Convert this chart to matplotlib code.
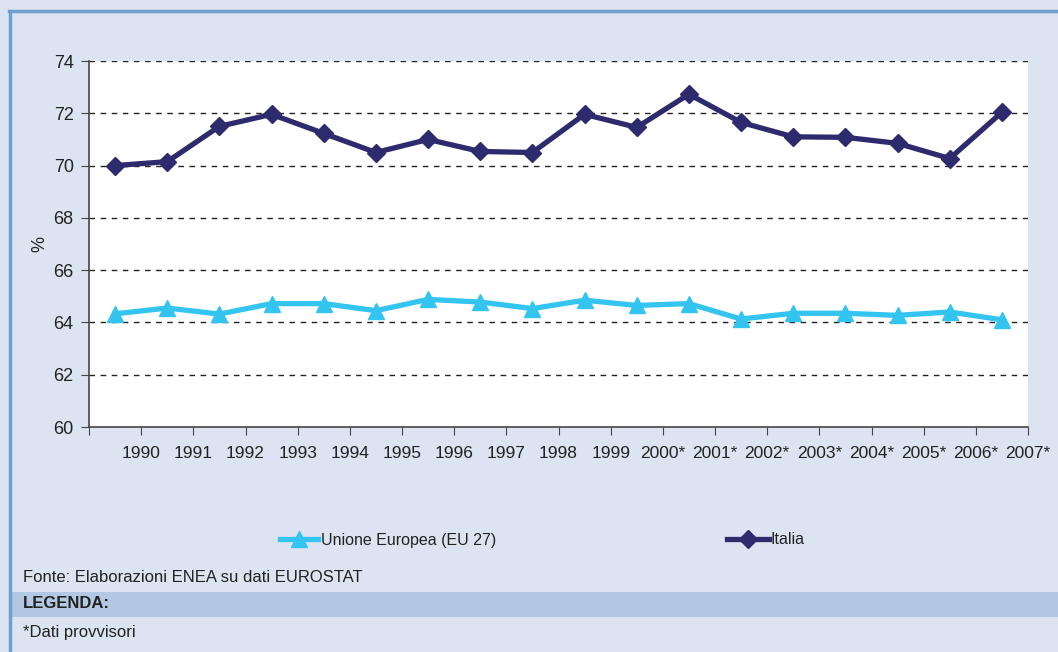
import matplotlib
matplotlib.use("Agg")
import matplotlib.pyplot as plt
from matplotlib.lines import Line2D
from matplotlib.patches import Rectangle

years = ["1990", "1991", "1992", "1993", "1994", "1995", "1996", "1997", "1998",
         "1999", "2000*", "2001*", "2002*", "2003*", "2004*", "2005*", "2006*", "2007*"]
italia = [70.0, 70.15, 71.5, 71.96, 71.23, 70.5, 71.0, 70.54, 70.5,
          71.96, 71.46, 72.73, 71.65, 71.1, 71.08, 70.85, 70.27, 72.04]
ue27 = [64.33, 64.55, 64.32, 64.72, 64.72, 64.45, 64.88, 64.78, 64.53,
        64.85, 64.65, 64.72, 64.13, 64.35, 64.35, 64.27, 64.4, 64.1]
yticks = [60, 62, 64, 66, 68, 70, 72, 74]

plt.rcParams['font.family'] = ['Liberation Sans Narrow', 'Liberation Sans', 'DejaVu Sans']

BG = "#dbe4f0"
C_IT = "#2e2a6e"
C_EU = "#33c4f0"
TXT = "#222222"

fig = plt.figure(figsize=(10.58, 6.52), dpi=100, facecolor=BG)
ax = fig.add_axes([89/1058, 1-427/652, (1028-89)/1058, (427-61)/652])
ax.set_facecolor("white")

x = list(range(len(years)))
ax.plot(x, ue27, color=C_EU, lw=3.8, marker="^", ms=11, zorder=3)
ax.plot(x, italia, color=C_IT, lw=3.8, marker="D", ms=9.5, zorder=3)

ax.set_xlim(-0.5, len(years) - 0.5)
ax.set_ylim(60, 74)
ax.set_yticks(yticks)
ax.set_yticklabels([str(v) for v in yticks], fontsize=13, color=TXT)
ax.set_xticks([i - 0.5 for i in range(len(years) + 1)])
ax.set_xticklabels([""] + years, fontsize=12.5, color=TXT)
ax.tick_params(axis="x", length=6, color="#444444", pad=8)
ax.tick_params(axis="y", length=6, color="#444444", pad=5)
for v in yticks[1:]:
    ax.axhline(v, color="#222222", lw=1.0, ls=(0, (4, 4)), zorder=1)
for s in ["top", "right"]:
    ax.spines[s].set_visible(False)
for s in ["left", "bottom"]:
    ax.spines[s].set_color("#444444")
    ax.spines[s].set_linewidth(1.2)
ax.set_ylabel("%", fontsize=13, color=TXT, labelpad=4)

# legends
h_eu = Line2D([], [], color=C_EU, lw=3.8, marker="^", ms=11)
h_it = Line2D([], [], color=C_IT, lw=3.8, marker="D", ms=9.5)
leg1 = fig.legend([h_eu], ["Unione Europea (EU 27)"], loc="center left",
                  bbox_to_anchor=(280/1058, 1-540/652), frameon=False, fontsize=11.5,
                  handlelength=2.4, handletextpad=0.15, borderaxespad=0, borderpad=0)
leg2 = fig.legend([h_it], ["Italia"], loc="center left",
                  bbox_to_anchor=(727/1058, 1-540/652), frameon=False, fontsize=11.5,
                  handlelength=2.6, handletextpad=0.15, borderaxespad=0, borderpad=0)
for lg in (leg1, leg2):
    for t in lg.get_texts():
        t.set_color(TXT)

# bottom info
fig.add_artist(Rectangle((11/1058, 1-617/652), 1, 25/652, transform=fig.transFigure,
                         facecolor="#b3c8e3", edgecolor="none"))
fig.text(23/1058, 1-577/652, "Fonte: Elaborazioni ENEA su dati EUROSTAT",
         fontsize=12, color=TXT, va="center")
fig.text(23/1058, 1-604/652, "LEGENDA:", fontsize=12, color=TXT,
         fontweight="bold", va="center")
fig.text(23/1058, 1-633/652, "*Dati provvisori", fontsize=12, color=TXT, va="center")

# border
fig.add_artist(Line2D([10/1058, 10/1058], [0, 1-11/652], transform=fig.transFigure,
                      color="#6f9fcf", lw=2.5))
fig.add_artist(Line2D([9/1058, 1], [1-11/652, 1-11/652], transform=fig.transFigure,
                      color="#6f9fcf", lw=2.5))

fig.savefig("out.png", dpi=100, facecolor=fig.get_facecolor())
